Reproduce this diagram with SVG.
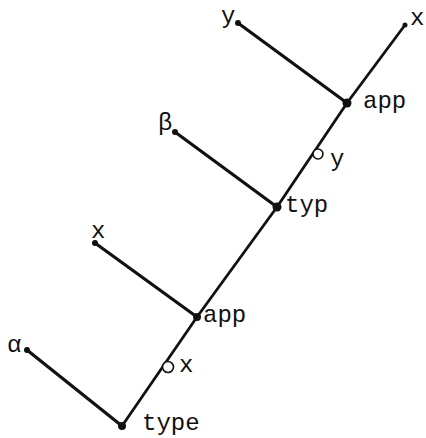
<svg xmlns="http://www.w3.org/2000/svg" width="426" height="438" viewBox="0 0 426 438">
<style>
.e{stroke:#111;stroke-width:3.2;stroke-linecap:round;fill:none}
.t{stroke:#111;stroke-width:2.8;stroke-linecap:round;fill:none}
.d{fill:#111}
.c{fill:#fff;stroke:#111;stroke-width:1.6}
text{font-family:"Liberation Mono","DejaVu Sans Mono",monospace;font-size:24px;fill:#111}
</style>
<rect width="426" height="438" fill="#fff"/>
<g id="connectors">
<polyline class="t" points="122,426 197,317 277,207 347,103 405,25"/>
<line class="e" x1="27" y1="350" x2="122" y2="426"/>
<line class="e" x1="95" y1="243" x2="197" y2="317"/>
<line class="e" x1="175" y1="132" x2="277" y2="207"/>
<line class="e" x1="238" y1="23" x2="347" y2="103"/>
</g>
<g id="n-type"><circle class="d" cx="122" cy="426" r="4"/><text x="142" y="430">type</text></g>
<g id="n-alpha"><circle class="d" cx="27" cy="350" r="3"/><text x="7" y="352">α</text></g>
<g id="n-ox"><circle class="c" cx="168" cy="367" r="5.5"/><text x="179" y="372">x</text></g>
<g id="n-app1"><circle class="d" cx="197" cy="317" r="4"/><text x="203" y="322">app</text></g>
<g id="n-x1"><circle class="d" cx="95" cy="243" r="3"/><text x="91" y="238">x</text></g>
<g id="n-typ"><circle class="d" cx="277" cy="207" r="4.5"/><text x="285" y="212">typ</text></g>
<g id="n-beta"><circle class="d" cx="175" cy="132" r="3"/><text x="158" y="130">β</text></g>
<g id="n-oy"><circle class="c" cx="318" cy="154" r="5"/><text x="330" y="166">y</text></g>
<g id="n-app2"><circle class="d" cx="347" cy="103" r="4.5"/><text x="363" y="108">app</text></g>
<g id="n-y"><circle class="d" cx="238" cy="23" r="3"/><text x="221" y="23">y</text></g>
<g id="n-x2"><circle class="d" cx="405" cy="25" r="2.5"/><text x="410" y="25">x</text></g>
</svg>
